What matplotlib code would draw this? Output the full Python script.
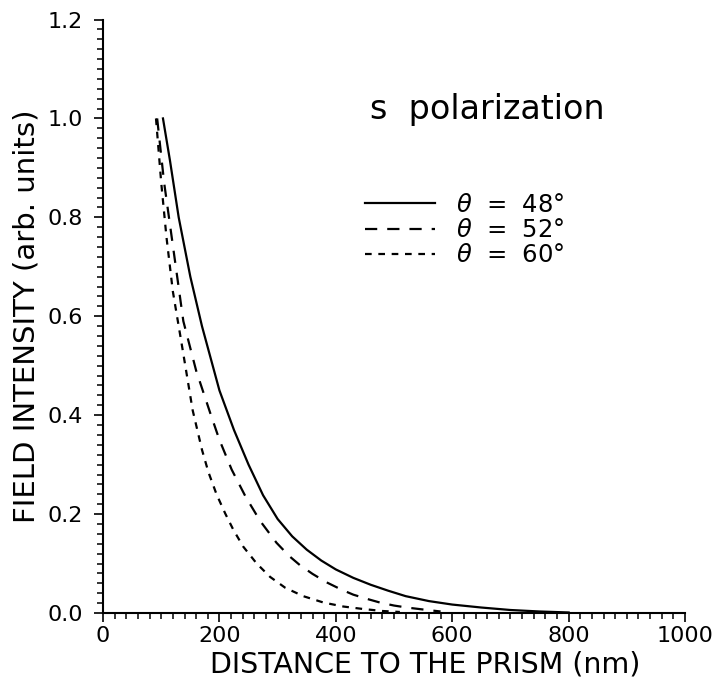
import matplotlib
matplotlib.use("Agg")
import matplotlib.pyplot as plt
from matplotlib.ticker import MultipleLocator, FormatStrFormatter

# ---- data ----
x_48 = [103, 115, 130, 150, 170, 200, 225, 250, 275, 300, 325, 350, 375, 400, 430, 460, 490,
        520, 560, 600, 650, 700, 750, 800]
y_48 = [1.0, 0.915, 0.80, 0.68, 0.58, 0.45, 0.37, 0.30, 0.238, 0.190, 0.155, 0.128, 0.106, 0.088,
        0.071, 0.057, 0.045, 0.034, 0.024, 0.017, 0.011, 0.006, 0.003, 0.001]

x_52 = [93, 105, 118, 138, 160, 184, 200, 221, 245, 270, 298, 320, 338, 360, 384, 410, 430,
        455, 476, 500, 522, 550, 580]
y_52 = [1.0, 0.87, 0.76, 0.59, 0.49, 0.405, 0.35, 0.29, 0.235, 0.186, 0.142, 0.115, 0.097,
        0.079, 0.062, 0.047, 0.037, 0.028, 0.021, 0.015, 0.011, 0.007, 0.003]

x_60 = [91, 100, 109, 120, 135, 154, 170, 181, 195, 210, 224, 241, 264, 287, 313, 344, 379,
        413, 447, 480, 510]
y_60 = [1.0, 0.87, 0.76, 0.65, 0.545, 0.41, 0.33, 0.285, 0.24, 0.201, 0.168, 0.134, 0.100,
        0.073, 0.051, 0.034, 0.021, 0.013, 0.008, 0.004, 0.002]

labels = [r"$\theta$  =  48°", r"$\theta$  =  52°", r"$\theta$  =  60°"]
x_ticks = [0, 200, 400, 600, 800, 1000]
y_ticks = [0.0, 0.2, 0.4, 0.6, 0.8, 1.0, 1.2]

plt.rcParams['font.family'] = ['DejaVu Sans']

fig = plt.figure(figsize=(7.13, 6.81), dpi=100)
ax = fig.add_axes([0.1445, 0.0999, 0.8163, 0.8714])

lw = 1.6
l1, = ax.plot(x_48, y_48, color='black', lw=lw, linestyle='-', solid_joinstyle='round')
l2, = ax.plot(x_52, y_52, color='black', lw=lw, linestyle=(0, (5.5, 4.5)))
l3, = ax.plot(x_60, y_60, color='black', lw=lw, linestyle=(0, (3.0, 3.0)))

ax.set_xlim(0, 1000)
ax.set_ylim(0, 1.2)
ax.set_xticks(x_ticks)
ax.set_yticks(y_ticks)
ax.xaxis.set_minor_locator(MultipleLocator(20))
ax.yaxis.set_minor_locator(MultipleLocator(0.02))
ax.yaxis.set_major_formatter(FormatStrFormatter('%.1f'))

for s in ['top', 'right']:
    ax.spines[s].set_visible(False)
for s in ['left', 'bottom']:
    ax.spines[s].set_linewidth(1.5)

ax.tick_params(axis='both', which='major', direction='out', length=6.5, width=1.2)
ax.tick_params(axis='both', which='minor', direction='out', length=4.5, width=1.1)
ax.tick_params(axis='x', which='major', labelsize=16, pad=3)
ax.tick_params(axis='y', which='major', labelsize=16, pad=8)

ax.set_xlabel("DISTANCE TO THE PRISM (nm)", fontsize=20.5)
ax.xaxis.set_label_coords(0.553, -0.063)
ax.set_ylabel("FIELD INTENSITY (arb. units)", fontsize=21, labelpad=5)

ax.text(0.459, 0.848, "s  polarization", transform=ax.transAxes,
        fontsize=24, ha='left', va='center')

ax.legend([l1, l2, l3], labels, loc='upper left', bbox_to_anchor=(0.450, 0.708),
          frameon=False, fontsize=17.5, handlelength=2.9, handletextpad=0.85,
          labelspacing=0.05, borderpad=0, borderaxespad=0)

fig.savefig("out.png", dpi=100)
